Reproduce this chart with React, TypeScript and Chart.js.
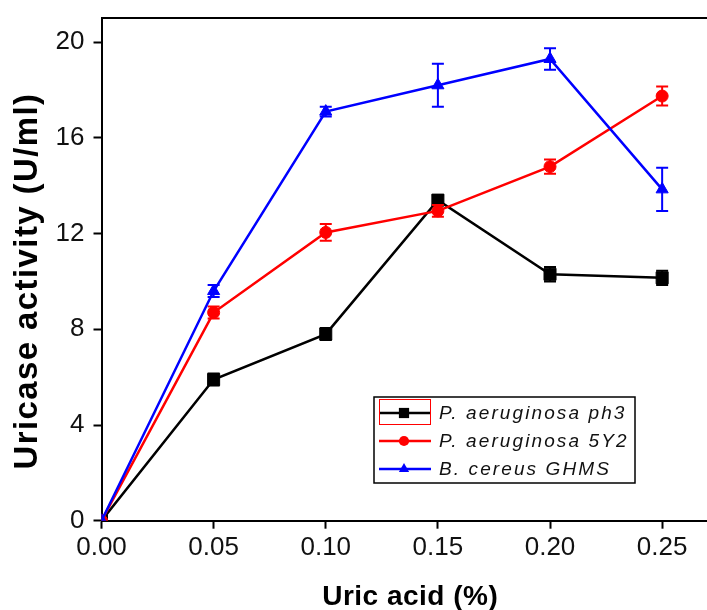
import { useEffect, useRef } from "react";
import { Chart, registerables } from "chart.js";

Chart.register(...registerables);

// Uric acid concentration (%) on the x axis
const uricAcid = [0, 0.05, 0.1, 0.15, 0.2, 0.25];

// Uricase activity (U/ml) per strain, with standard-error half-widths
const ph3 = [0, 5.9, 7.8, 13.4, 10.3, 10.15];
const ph3Err = [0, 0.25, 0.25, 0.2, 0.3, 0.3];
const y2 = [0, 8.7, 12.05, 12.95, 14.8, 17.75];
const y2Err = [0, 0.25, 0.35, 0.25, 0.3, 0.4];
const ghms = [0, 9.6, 17.1, 18.2, 19.3, 13.85];
const ghmsErr = [0, 0.25, 0.2, 0.9, 0.45, 0.9];

const seriesNames = ["P. aeruginosa ph3", "P. aeruginosa 5Y2", "B. cereus GHMS"];
const seriesColors = ["#000000", "#ff0000", "#0000ff"];
const seriesMarkers = ["rect", "circle", "triangle"];
const markerRadius = [8.5, 6, 7];

const xTitle = "Uric acid (%)";
const yTitle = "Uricase activity (U/ml)";

const FONT = "'Liberation Sans', Arial, sans-serif";

// Vertical error bars, drawn right after each dataset so stacking order is kept
const errorBarPlugin = {
  id: "errorBars",
  afterDatasetDraw(chart: any, args: any) {
    const ds = chart.data.datasets[args.index];
    const errs: number[] = ds.errors || [];
    const xs = chart.scales.x;
    const ys = chart.scales.y;
    const ctx = chart.ctx;
    ctx.save();
    ctx.strokeStyle = ds.borderColor;
    ctx.lineWidth = 2;
    const cap = 6;
    ds.data.forEach((p: any, i: number) => {
      const e = errs[i];
      if (!e) return;
      const px = xs.getPixelForValue(p.x);
      const top = ys.getPixelForValue(p.y + e);
      const bot = ys.getPixelForValue(p.y - e);
      ctx.beginPath();
      ctx.moveTo(px, top);
      ctx.lineTo(px, bot);
      ctx.moveTo(px - cap, top);
      ctx.lineTo(px + cap, top);
      ctx.moveTo(px - cap, bot);
      ctx.lineTo(px + cap, bot);
      ctx.stroke();
    });
    ctx.restore();
  },
};

function drawMarker(ctx: CanvasRenderingContext2D, style: string, r: number, x: number, y: number) {
  ctx.beginPath();
  if (style === "rect") {
    const s = Math.SQRT1_2 * r;
    ctx.rect(x - s, y - s, 2 * s, 2 * s);
  } else if (style === "circle") {
    ctx.arc(x, y, r, 0, Math.PI * 2);
  } else {
    ctx.moveTo(x, y - r);
    ctx.lineTo(x + r * 0.866, y + r * 0.5);
    ctx.lineTo(x - r * 0.866, y + r * 0.5);
    ctx.closePath();
  }
  ctx.fill();
}

// Axis titles (spaced lettering) and the boxed legend
const annotationPlugin = {
  id: "annotations",
  afterDraw(chart: any) {
    const ctx = chart.ctx;
    const area = chart.chartArea;
    ctx.save();

    // axis titles
    ctx.fillStyle = "#000";
    ctx.textAlign = "center";
    ctx.textBaseline = "middle";
    ctx.font = `bold 28px ${FONT}`;
    (ctx as any).letterSpacing = "0.5px";
    ctx.fillText(xTitle, (area.left + area.right) / 2 + 6, 597);

    ctx.save();
    ctx.translate(28, 281);
    ctx.rotate(-Math.PI / 2);
    ctx.font = `bold 33px ${FONT}`;
    (ctx as any).letterSpacing = "1.4px";
    ctx.fillText(yTitle, 0, 0);
    ctx.restore();

    // legend box
    const left = 374;
    const top = 397;
    const w = 261;
    const h = 86;
    const rowY = [413, 441, 469];
    ctx.fillStyle = "#ffffff";
    ctx.fillRect(left, top, w, h);
    ctx.strokeStyle = "#000";
    ctx.lineWidth = 1.5;
    ctx.strokeRect(left, top, w, h);

    chart.data.datasets.forEach((ds: any, i: number) => {
      const y = rowY[i];
      ctx.strokeStyle = ds.borderColor;
      ctx.lineWidth = 2.5;
      ctx.beginPath();
      ctx.moveTo(379, y);
      ctx.lineTo(431, y);
      ctx.stroke();
      ctx.fillStyle = ds.borderColor;
      drawMarker(ctx, ds.pointStyle, ds.pointRadius * 0.85, 404, y);
      ctx.fillStyle = "#111";
      ctx.font = `italic 19px ${FONT}`;
      (ctx as any).letterSpacing = "2.1px";
      ctx.textBaseline = "middle";
      ctx.textAlign = "left";
      ctx.fillText(ds.label, 439, y + 1);
    });
    (ctx as any).letterSpacing = "0px";
    // selection frame around the first sample
    ctx.strokeStyle = "#ff0000";
    ctx.lineWidth = 1;
    ctx.strokeRect(379.5, 399.5, 51, 25);
    ctx.restore();
  },
};

const valueSets = [ph3, y2, ghms];
const errorSets = [ph3Err, y2Err, ghmsErr];

export default function App() {
  const canvasRef = useRef<HTMLCanvasElement | null>(null);

  useEffect(() => {
    if (!canvasRef.current) return;
    const datasets = valueSets.map((vals, i) => ({
      label: seriesNames[i],
      data: uricAcid.map((x, j) => ({ x, y: vals[j] })),
      errors: errorSets[i],
      borderColor: seriesColors[i],
      backgroundColor: seriesColors[i],
      borderWidth: 2.5,
      pointStyle: seriesMarkers[i],
      pointRadius: markerRadius[i],
      pointBorderWidth: 1,
      tension: 0,
      order: 3 - i,
    }));

    const chart = new Chart(canvasRef.current, {
      type: "line",
      data: { datasets } as any,
      options: {
        animation: false,
        responsive: false,
        layout: { autoPadding: false, padding: { left: 8, right: 0, top: 0, bottom: 0 } },
        plugins: { legend: { display: false }, tooltip: { enabled: false } },
        scales: {
          x: {
            type: "linear",
            position: "bottom",
            min: 0,
            max: 0.27,
            afterFit: (s: any) => {
              s.height = 89.3;
              s.paddingRight = 0;
              s.paddingLeft = 0;
            },
            ticks: {
              stepSize: 0.05,
              includeBounds: false,
              autoSkip: false,
              maxRotation: 0,
              padding: 4,
              color: "#111",
              font: { family: FONT, size: 26 },
              callback: (v: any) => Number(v).toFixed(2),
            },
            grid: {
              display: true,
              drawOnChartArea: false,
              drawTicks: true,
              tickLength: 8,
              tickWidth: 2,
              tickColor: "#000",
            },
            border: { display: true, color: "#000", width: 2 },
          },
          xTop: {
            type: "linear",
            position: "top",
            min: 0,
            max: 0.27,
            afterFit: (s: any) => {
              s.height = 18.3;
              s.paddingRight = 0;
              s.paddingLeft = 0;
            },
            ticks: { display: false },
            grid: { display: false },
            border: { display: true, color: "#000", width: 2 },
          },
          y: {
            type: "linear",
            position: "left",
            min: 0,
            max: 21,
            afterFit: (s: any) => {
              s.width = 93.5;
              s.paddingTop = 0;
              s.paddingBottom = 0;
            },
            ticks: {
              stepSize: 4,
              includeBounds: false,
              padding: 9,
              color: "#111",
              font: { family: FONT, size: 26 },
            },
            grid: {
              display: true,
              drawOnChartArea: false,
              drawTicks: true,
              tickLength: 8,
              tickWidth: 2,
              tickColor: "#000",
            },
            border: { display: true, color: "#000", width: 2 },
          },
        },
      } as any,
      plugins: [errorBarPlugin, annotationPlugin],
    });
    return () => chart.destroy();
  }, []);

  return (
    <div style={{ position: "fixed", left: 0, top: 0, width: 707, height: 610, background: "#fff" }}>
      <canvas ref={canvasRef} width={707} height={610} style={{ display: "block" }} />
    </div>
  );
}
